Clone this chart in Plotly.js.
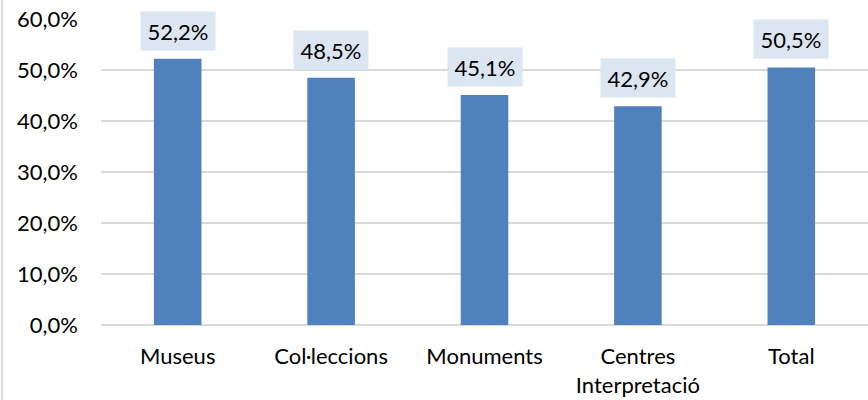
<!DOCTYPE html>
<html>
<head>
<meta charset="utf-8">
<script src="https://cdn.plot.ly/plotly-3.0.1.min.js"></script>
<style>
html,body{margin:0;padding:0;background:#fff;}
#chart{width:868px;height:400px;position:absolute;left:0;top:0;}
#edge{position:absolute;left:1px;top:0;width:2px;height:400px;background:#D9D9D9;}
</style>
</head>
<body>
<div id="chart"></div>
<div id="edge"></div>
<script>
const categories = ["Museus", "Col·leccions", "Monuments", "Centres<br>Interpretació", "Total"];
const values = [52.2, 48.5, 45.1, 42.9, 50.5];
const valueLabels = ["52,2%", "48,5%", "45,1%", "42,9%", "50,5%"];
const tickVals = [0, 10, 20, 30, 40, 50, 60];
const tickText = ["0,0%", "10,0%", "20,0%", "30,0%", "40,0%", "50,0%", "60,0%"];

const font = "Lato, 'Open Sans', sans-serif";
const fsize = 22;

const trace = {
  type: "bar",
  x: categories,
  y: values,
  marker: {color: "#4F81BD"},
  width: 0.31,
  hoverinfo: "none"
};

const annotations = categories.map((c, i) => ({
  x: c, y: values[i], xref: "x", yref: "y",
  text: valueLabels[i],
  showarrow: false,
  yanchor: "bottom",
  yshift: 8,
  width: 68,
  height: 32,
  bgcolor: "#DCE6F2",
  borderpad: 3,
  font: {family: font, size: fsize, color: "#000"}
}));

const layout = {
  width: 868, height: 400,
  margin: {l: 101, r: 0, t: 19, b: 75, pad: 0},
  paper_bgcolor: "#fff",
  plot_bgcolor: "#fff",
  showlegend: false,
  font: {family: font, size: fsize, color: "#000"},
  bargap: 0.69,
  xaxis: {
    showgrid: false, zeroline: false, showline: false,
    ticks: "", ticklabelstandoff: 16,
    tickfont: {family: font, size: fsize, color: "#000"},
    fixedrange: true
  },
  yaxis: {
    range: [0, 60],
    tickvals: tickVals, ticktext: tickText,
    showgrid: true, gridcolor: "#D9D9D9", gridwidth: 1.5,
    zeroline: true, zerolinecolor: "#D9D9D9", zerolinewidth: 1.5,
    showline: false, ticks: "", ticklabelstandoff: 22,
    tickfont: {family: font, size: fsize, color: "#000"},
    fixedrange: true
  },
  annotations: annotations
};

Plotly.newPlot("chart", [trace], layout, {staticPlot: true, displayModeBar: false});
</script>
</body>
</html>
